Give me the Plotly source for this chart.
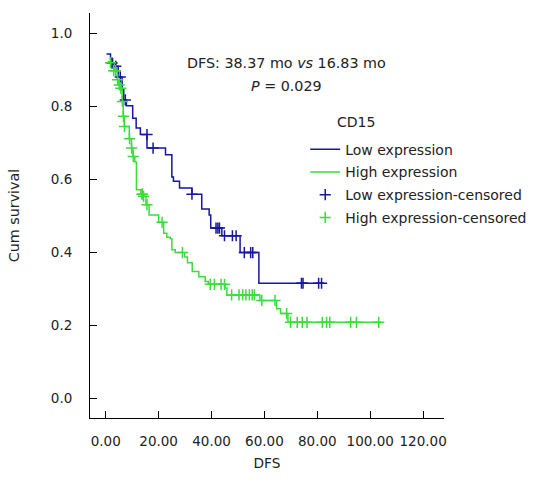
import plotly.graph_objects as go

# ---- data ----
low_t = [0.3, 1.8, 2.6, 3.0, 4.7, 6.2, 6.8, 7.8, 10.2, 11.5, 13.1, 15.6, 22.6, 25.0, 25.6, 27.9,
         32.6, 36.3, 39.1, 39.7, 43.9, 50.8, 57.9, 82.5]
low_s = [0.943, 0.929, 0.918, 0.909, 0.880, 0.845, 0.817, 0.801, 0.767, 0.740, 0.722, 0.685,
         0.667, 0.606, 0.594, 0.576, 0.559, 0.518, 0.502, 0.466, 0.445, 0.399, 0.315, 0.315]

low_cens_t = [2.4, 3.8, 5.5, 7.4, 15.6, 17.9, 32.6, 41.7, 42.4, 43.0, 44.9, 47.9, 49.3,
              52.4, 54.8, 55.6, 74.0, 74.6, 80.5, 81.6]
low_cens_s = [0.918, 0.909, 0.880, 0.817, 0.722, 0.685, 0.559, 0.466, 0.466, 0.466, 0.445,
              0.445, 0.445, 0.399, 0.399, 0.399, 0.315, 0.315, 0.315, 0.315]

high_t = [0.75, 2.5, 3.3, 4.3, 4.9, 5.5, 6.2, 6.6, 7.0, 8.9, 9.7, 10.3, 11.0, 11.6, 13.3, 14.1,
          15.2, 16.4, 20.0, 21.9, 23.1, 24.4, 25.0, 26.3, 29.8, 30.9, 32.7, 35.2, 37.6, 38.8,
          45.1, 45.8, 58.3, 64.6, 66.1, 68.9, 104.2]
high_s = [0.922, 0.910, 0.897, 0.872, 0.858, 0.849, 0.813, 0.772, 0.744, 0.711, 0.685, 0.662,
          0.647, 0.571, 0.559, 0.553, 0.530, 0.502, 0.482, 0.452, 0.441, 0.437, 0.407, 0.399,
          0.387, 0.371, 0.347, 0.333, 0.320, 0.312, 0.302, 0.283, 0.268, 0.245, 0.232, 0.208,
          0.208]

high_cens_t = [1.8, 3.0, 3.7, 4.5, 5.1, 5.7, 6.3, 6.7, 7.1, 9.0, 9.8, 10.4, 13.7, 13.9, 14.3,
               15.6, 21.3, 29.0, 39.5, 41.1, 43.6, 44.9, 47.6, 50.4, 51.8, 53.0, 54.3, 55.4,
               56.2, 59.0, 64.0, 68.4, 69.9, 72.4, 74.3, 76.1, 81.9, 83.5, 84.7, 92.6, 94.8,
               103.2]
high_cens_s = [0.919, 0.897, 0.897, 0.872, 0.858, 0.849, 0.813, 0.772, 0.744, 0.711, 0.685,
               0.662, 0.559, 0.559, 0.553, 0.530, 0.482, 0.399, 0.312, 0.312, 0.312, 0.312,
               0.283, 0.283, 0.283, 0.283, 0.283, 0.283, 0.283, 0.268, 0.268, 0.232, 0.208,
               0.208, 0.208, 0.208, 0.208, 0.208, 0.208, 0.208, 0.208, 0.208]

x_ticks = [0, 20, 40, 60, 80, 100, 120]
x_tick_text = ["0.00", "20.00", "40.00", "60.00", "80.00", "100.00", "120.00"]
y_ticks = [0.0, 0.2, 0.4, 0.6, 0.8, 1.0]
y_tick_text = ["0.0", "0.2", "0.4", "0.6", "0.8", "1.0"]

BLUE = "#1616a0"
GREEN = "#3cdc3c"
FONT = "DejaVu Sans"
TXT = "#222222"

fig = go.Figure()
fig.add_trace(go.Scatter(x=low_t, y=low_s, mode="lines", line=dict(color=BLUE, width=1.5, shape="hv"),
                         name="Low expression", legendgroup="a"))
fig.add_trace(go.Scatter(x=high_t, y=high_s, mode="lines", line=dict(color=GREEN, width=1.5, shape="hv"),
                         name="High expression", legendgroup="b"))
fig.add_trace(go.Scatter(x=low_cens_t, y=low_cens_s, mode="markers",
                         marker=dict(symbol="cross-thin", size=8, line=dict(color=BLUE, width=1.5)),
                         name="Low expression-censored", legendgroup="c"))
fig.add_trace(go.Scatter(x=high_cens_t, y=high_cens_s, mode="markers",
                         marker=dict(symbol="cross-thin", size=8, line=dict(color=GREEN, width=1.5)),
                         name="High expression-censored", legendgroup="d"))

fig.update_layout(
    width=535, height=482,
    margin=dict(l=89.5, r=90.5, t=13.3, b=63.7, autoexpand=False),
    paper_bgcolor="white", plot_bgcolor="white",
    font=dict(family=FONT, size=14, color=TXT),
    showlegend=True,
    legend=dict(x=0.608, y=0.702, xanchor="left", yanchor="top", bgcolor="rgba(0,0,0,0)",
                tracegroupgap=1.5, font=dict(size=14)),
    annotations=[
        dict(text="DFS: 38.37 mo <i>vs</i> 16.83 mo", x=0.556, y=0.877, xref="paper", yref="paper",
             showarrow=False, xanchor="center", yanchor="middle", font=dict(size=14.3)),
        dict(text="<i>P</i> = 0.029", x=0.556, y=0.819, xref="paper", yref="paper",
             showarrow=False, xanchor="center", yanchor="middle", font=dict(size=14.3)),
        dict(text="CD15", x=0.6915, y=0.731, xref="paper", yref="paper",
             showarrow=False, xanchor="left", yanchor="middle", font=dict(size=14)),
    ],
)
fig.update_xaxes(range=[-5.95, 127.9], tickvals=x_ticks, ticktext=x_tick_text, automargin=False,
                 ticks="inside", ticklen=7, tickcolor="black", showline=True, linecolor="black",
                 linewidth=1, showgrid=False, zeroline=False, ticklabelstandoff=11,
                 tickfont=dict(size=13.5),
                 title=dict(text="DFS", standoff=10, font=dict(size=13.7)))
fig.update_yaxes(range=[-0.054, 1.055], tickvals=y_ticks, ticktext=y_tick_text, automargin=False,
                 ticks="inside", ticklen=7, tickcolor="black", showline=True, linecolor="black",
                 linewidth=1, showgrid=False, zeroline=False, ticklabelstandoff=14,
                 tickfont=dict(size=13.5),
                 title=dict(text="Cum survival", standoff=27, font=dict(size=14.3)))

fig.write_html("out.html", config={"displayModeBar": False},
               post_script="document.body.style.margin='0';")
